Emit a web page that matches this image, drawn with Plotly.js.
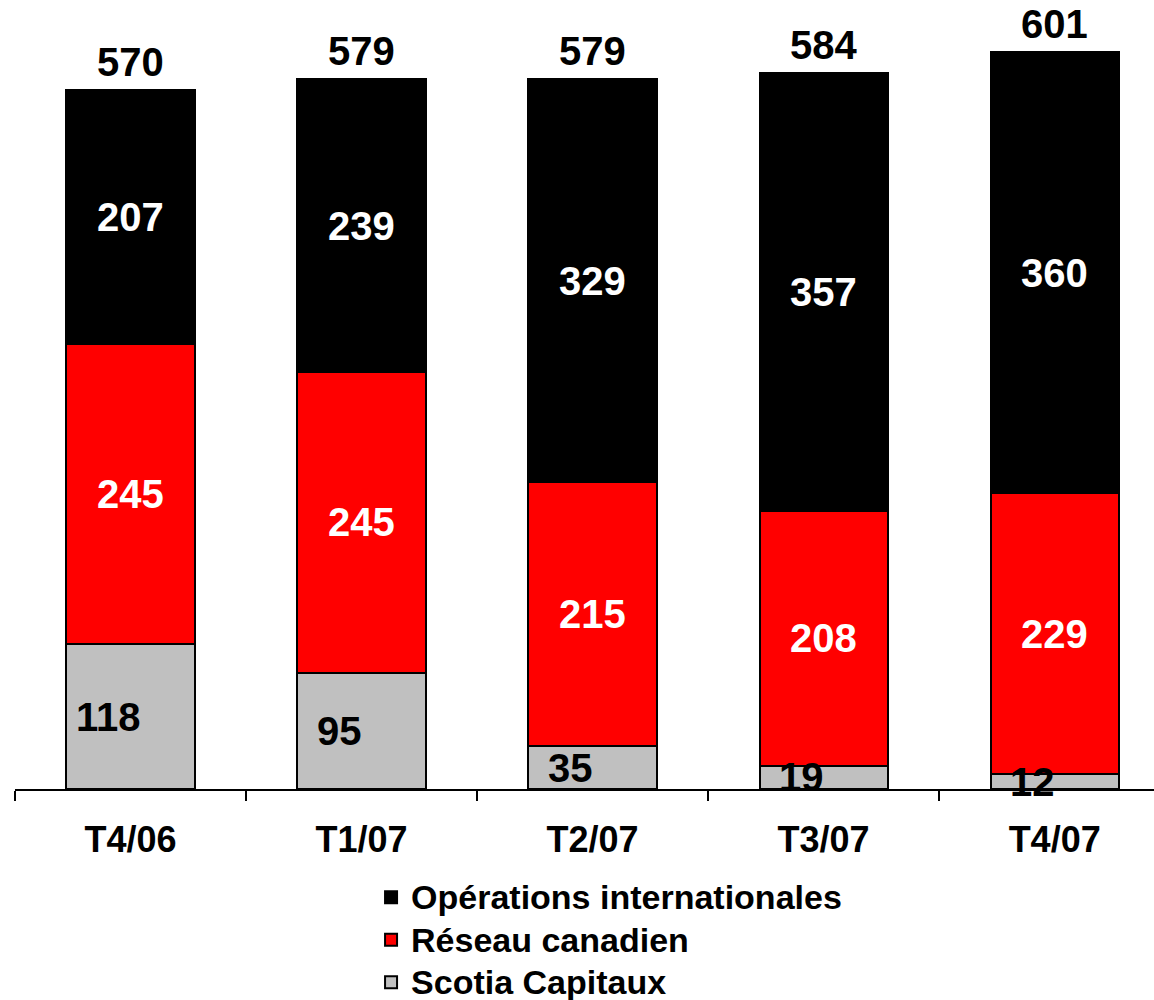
<!DOCTYPE html>
<html>
<head>
<meta charset="utf-8">
<script src="https://cdn.plot.ly/plotly-3.0.1.min.js"></script>
<style>html,body{margin:0;padding:0;background:#fff;}#chart{width:1154px;height:1000px;}</style>
</head>
<body>
<div id="chart"></div>
<script>
const categories = ["T4/06", "T1/07", "T2/07", "T3/07", "T4/07"];
const scotia = [118, 95, 35, 19, 12];
const reseau = [245, 245, 215, 208, 229];
const operations = [207, 239, 329, 357, 360];
const totals = [570, 579, 579, 584, 601];
const seriesNames = ["Scotia Capitaux", "Réseau canadien", "Opérations internationales"];

const FONT = "Liberation Sans, Arial, sans-serif";
const line = {color: "#000", width: 2};
const BW = 0.555;
const legendName = (s) => '<span style="font-size:34px">' + s + '</span>';

const traces = [
  {type: "bar", name: legendName(seriesNames[0]), x: categories, y: scotia, width: BW,
   marker: {color: "#c0c0c0", line: line}, hoverinfo: "skip"},
  {type: "bar", name: legendName(seriesNames[1]), x: categories, y: reseau, width: BW,
   marker: {color: "#ff0000", line: line}, hoverinfo: "skip"},
  {type: "bar", name: legendName(seriesNames[2]), x: categories, y: operations, width: BW,
   marker: {color: "#000000", line: line}, hoverinfo: "skip"}
];

const annotations = [];
const lblFont = (c) => ({family: FONT, size: 40, color: c, weight: "bold"});
categories.forEach((c, i) => {
  annotations.push({x: c, y: scotia[i] / 2, text: String(scotia[i]), showarrow: false,
    xshift: -22, font: lblFont("#000")});
  annotations.push({x: c, y: scotia[i] + reseau[i] / 2, text: String(reseau[i]), showarrow: false,
    font: lblFont("#fff")});
  annotations.push({x: c, y: scotia[i] + reseau[i] + operations[i] / 2, text: String(operations[i]), showarrow: false,
    font: lblFont("#fff")});
  annotations.push({x: c, y: totals[i], text: String(totals[i]), showarrow: false,
    yanchor: "bottom", borderpad: 0, yshift: 5, font: lblFont("#000")});
});

const layout = {
  width: 1154, height: 1000,
  margin: {l: 15, r: 0, t: 0, b: 211, autoexpand: false},
  paper_bgcolor: "#fff", plot_bgcolor: "#fff",
  barmode: "stack",
  showlegend: true,
  legend: {x: 0.3126, xanchor: "left", y: -0.104, yanchor: "top",
    font: {family: FONT, size: 30.4, color: "#000", weight: "bold"},
    traceorder: "reversed", bgcolor: "rgba(0,0,0,0)", tracegroupgap: 0},
  xaxis: {type: "category", range: [-0.5, 4.43], showline: true, linecolor: "#000", linewidth: 2,
    ticks: "outside", tickson: "boundaries", ticklen: 10, tickwidth: 2, tickcolor: "#000",
    ticklabelstandoff: 18, automargin: false,
    tickfont: {family: FONT, size: 36, color: "#000", weight: "bold"},
    showgrid: false, zeroline: false, fixedrange: true},
  yaxis: {range: [0, 643.4], visible: false, showgrid: false, zeroline: false, fixedrange: true, automargin: false},
  annotations: annotations
};

Plotly.newPlot("chart", traces, layout, {staticPlot: true, displayModeBar: false});
</script>
</body>
</html>
